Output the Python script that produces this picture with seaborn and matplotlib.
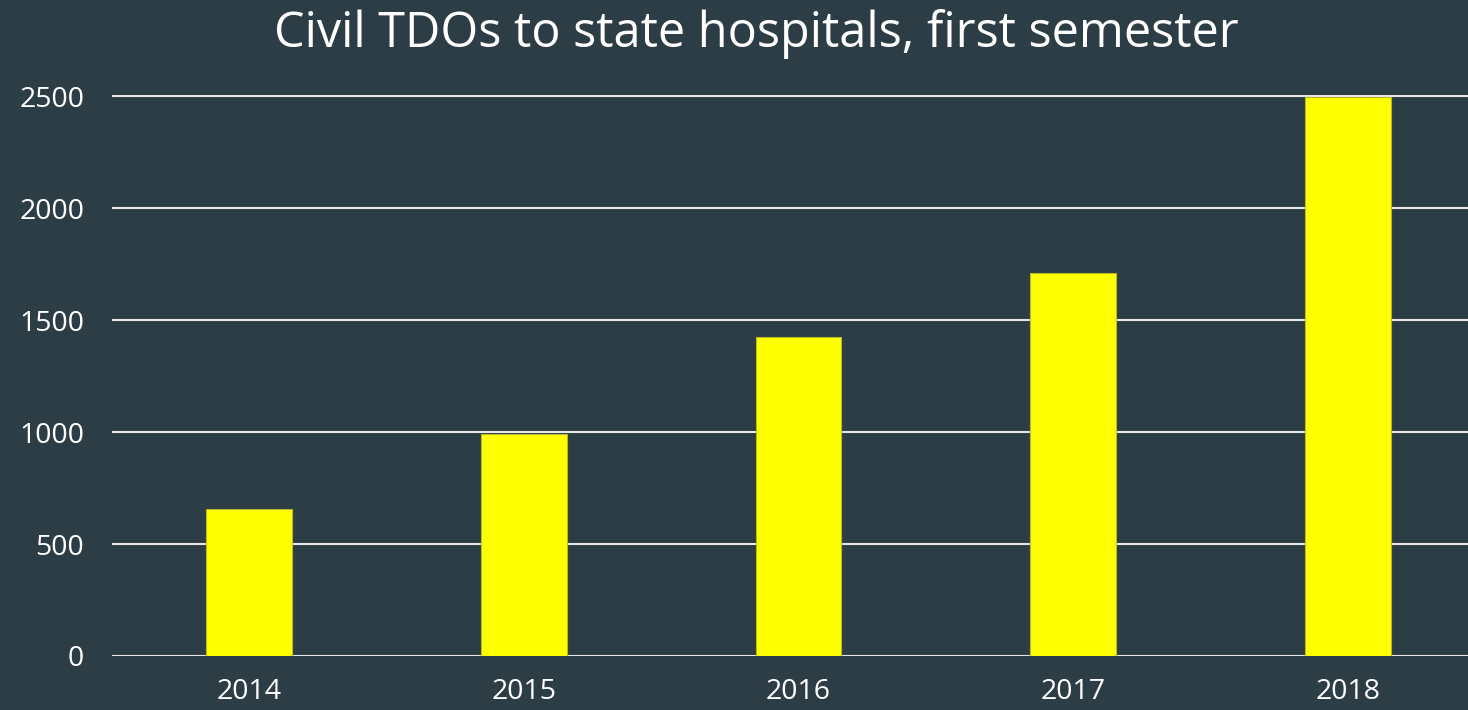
import numpy as np
import pandas as pd
import seaborn as sns
import matplotlib.pyplot as plt

# values
years = ['2014', '2015', '2016', '2017', '2018']
tdos = [655, 992, 1422, 1710, 2495]
yticks = [0, 500, 1000, 1500, 2000, 2500]

bg = '#2c3d45'

sns.set_theme(style='dark')
plt.rcParams['font.family'] = ['Open Sans', 'DejaVu Sans']

dat = pd.DataFrame({'year': years, 'tdos': tdos})

fig = plt.figure(figsize=(14.68, 7.10), dpi=100, facecolor=bg)
ax = fig.add_axes([112 / 1468, 54 / 710, 1356 / 1468, 561.1 / 710])
ax.set_facecolor(bg)

sns.barplot(data=dat, x='year', y='tdos', color='#ffff00', saturation=1,
            width=0.313, edgecolor='#b8b820', linewidth=0.8, ax=ax)

ax.set_xlim(-0.5, 4.438)
ax.set_ylim(0, 2505)
ax.set_yticks(yticks)
ax.set_axisbelow(True)
ax.yaxis.grid(True, color='#e6e6e6', linewidth=1.5)
ax.xaxis.grid(False)
for s in ax.spines.values():
    s.set_visible(False)

ax.set_xlabel('')
ax.set_ylabel('')
ax.tick_params(axis='y', colors='white', labelsize=20.5, length=0, pad=20)
ax.tick_params(axis='x', colors='white', labelsize=20.5, length=0, pad=16)

fig.text(756 / 1468, 1 - 34 / 710, 'Civil TDOs to state hospitals, first semester',
         color='white', fontsize=35, ha='center', va='center')

plt.savefig('out.png', dpi=100, facecolor=bg)
